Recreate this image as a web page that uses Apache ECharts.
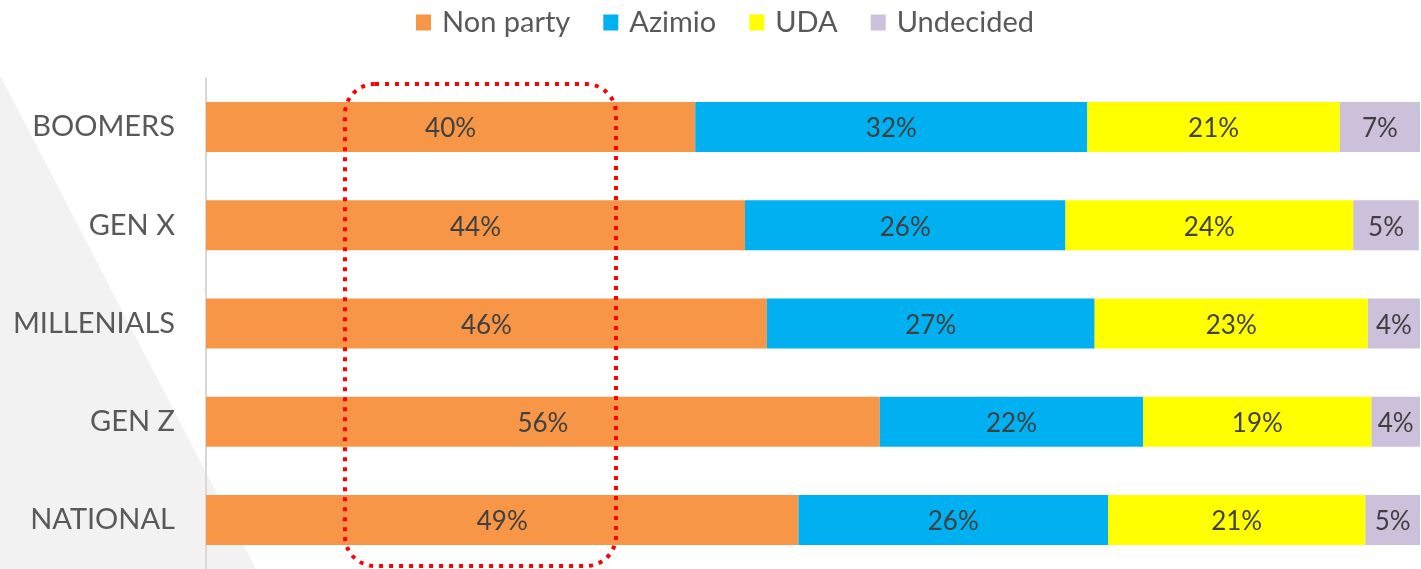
<!DOCTYPE html>
<html>
<head>
<meta charset="utf-8">
<script src="https://cdn.jsdelivr.net/npm/echarts@6/dist/echarts.min.js"></script>
<style>
  html, body { margin: 0; padding: 0; background: #fff; }
  #chart { width: 1421px; height: 569px; }
</style>
</head>
<body>
<div id="chart"></div>
<script>
// age groups, top to bottom
const categories = ['BOOMERS', 'GEN X', 'MILLENIALS', 'GEN Z', 'NATIONAL']
const seriesNames = ['Non party', 'Azimio', 'UDA', 'Undecided']
// shares in % (labels show rounded values)
const nonParty = [40.3, 44.4, 46.2, 55.5, 48.8]
const azimio = [32.3, 26.4, 27.0, 21.7, 25.5]
const uda = [20.8, 23.7, 22.5, 18.8, 21.2]
const undecided = [6.6, 5.4, 4.3, 4.0, 4.5]
const colors = ['#F79646', '#00B0F0', '#FFFF00', '#CCC0DA']

const font = 'Lato, "Open Sans", sans-serif'
const chart = echarts.init(document.getElementById('chart'))

const valueSets = [nonParty, azimio, uda, undecided]
const series = valueSets.map((vals, i) => ({
  name: seriesNames[i],
  type: 'bar',
  stack: 'total',
  barWidth: 50,
  data: vals,
  itemStyle: { color: colors[i] },
  label: {
    show: true,
    position: 'inside',
    color: '#404040',
    fontFamily: font,
    fontSize: 26,
    offset: [0, 2],
    formatter: p => Math.round(p.value) + '%'
  }
}))

chart.setOption({
  animation: false,
  color: colors,
  legend: {
    top: 3,
    left: 411,
    itemWidth: 15,
    itemHeight: 16,
    itemGap: 33,
    icon: 'rect',
    textStyle: { color: '#595959', fontFamily: font, fontSize: 29, padding: [0, 0, 0, 6] },
    data: seriesNames
  },
  grid: { left: 206, right: 1, top: 78, bottom: 0 },
  xAxis: {
    type: 'value',
    min: 0,
    max: 100,
    show: false
  },
  yAxis: {
    type: 'category',
    inverse: true,
    data: categories,
    axisLine: { show: true, lineStyle: { color: '#d9d9d9', width: 2 } },
    axisTick: { show: false },
    axisLabel: { color: '#595959', fontFamily: font, fontSize: 29, margin: 31 }
  },
  graphic: [
    {
      // grey diagonal background shape on the left
      type: 'polygon',
      z: -10,
      silent: true,
      shape: { points: [[0, 75], [256, 569], [0, 569]] },
      style: { fill: '#f2f2f2' }
    },
    {
      // red dotted highlight around the non-party column
      type: 'rect',
      z: 100,
      silent: true,
      shape: { x: 345, y: 84, width: 271, height: 482, r: 30 },
      style: { fill: 'none', stroke: '#ff0000', lineWidth: 4, lineDash: [4, 6] }
    }
  ],
  series: series
})
</script>
</body>
</html>
